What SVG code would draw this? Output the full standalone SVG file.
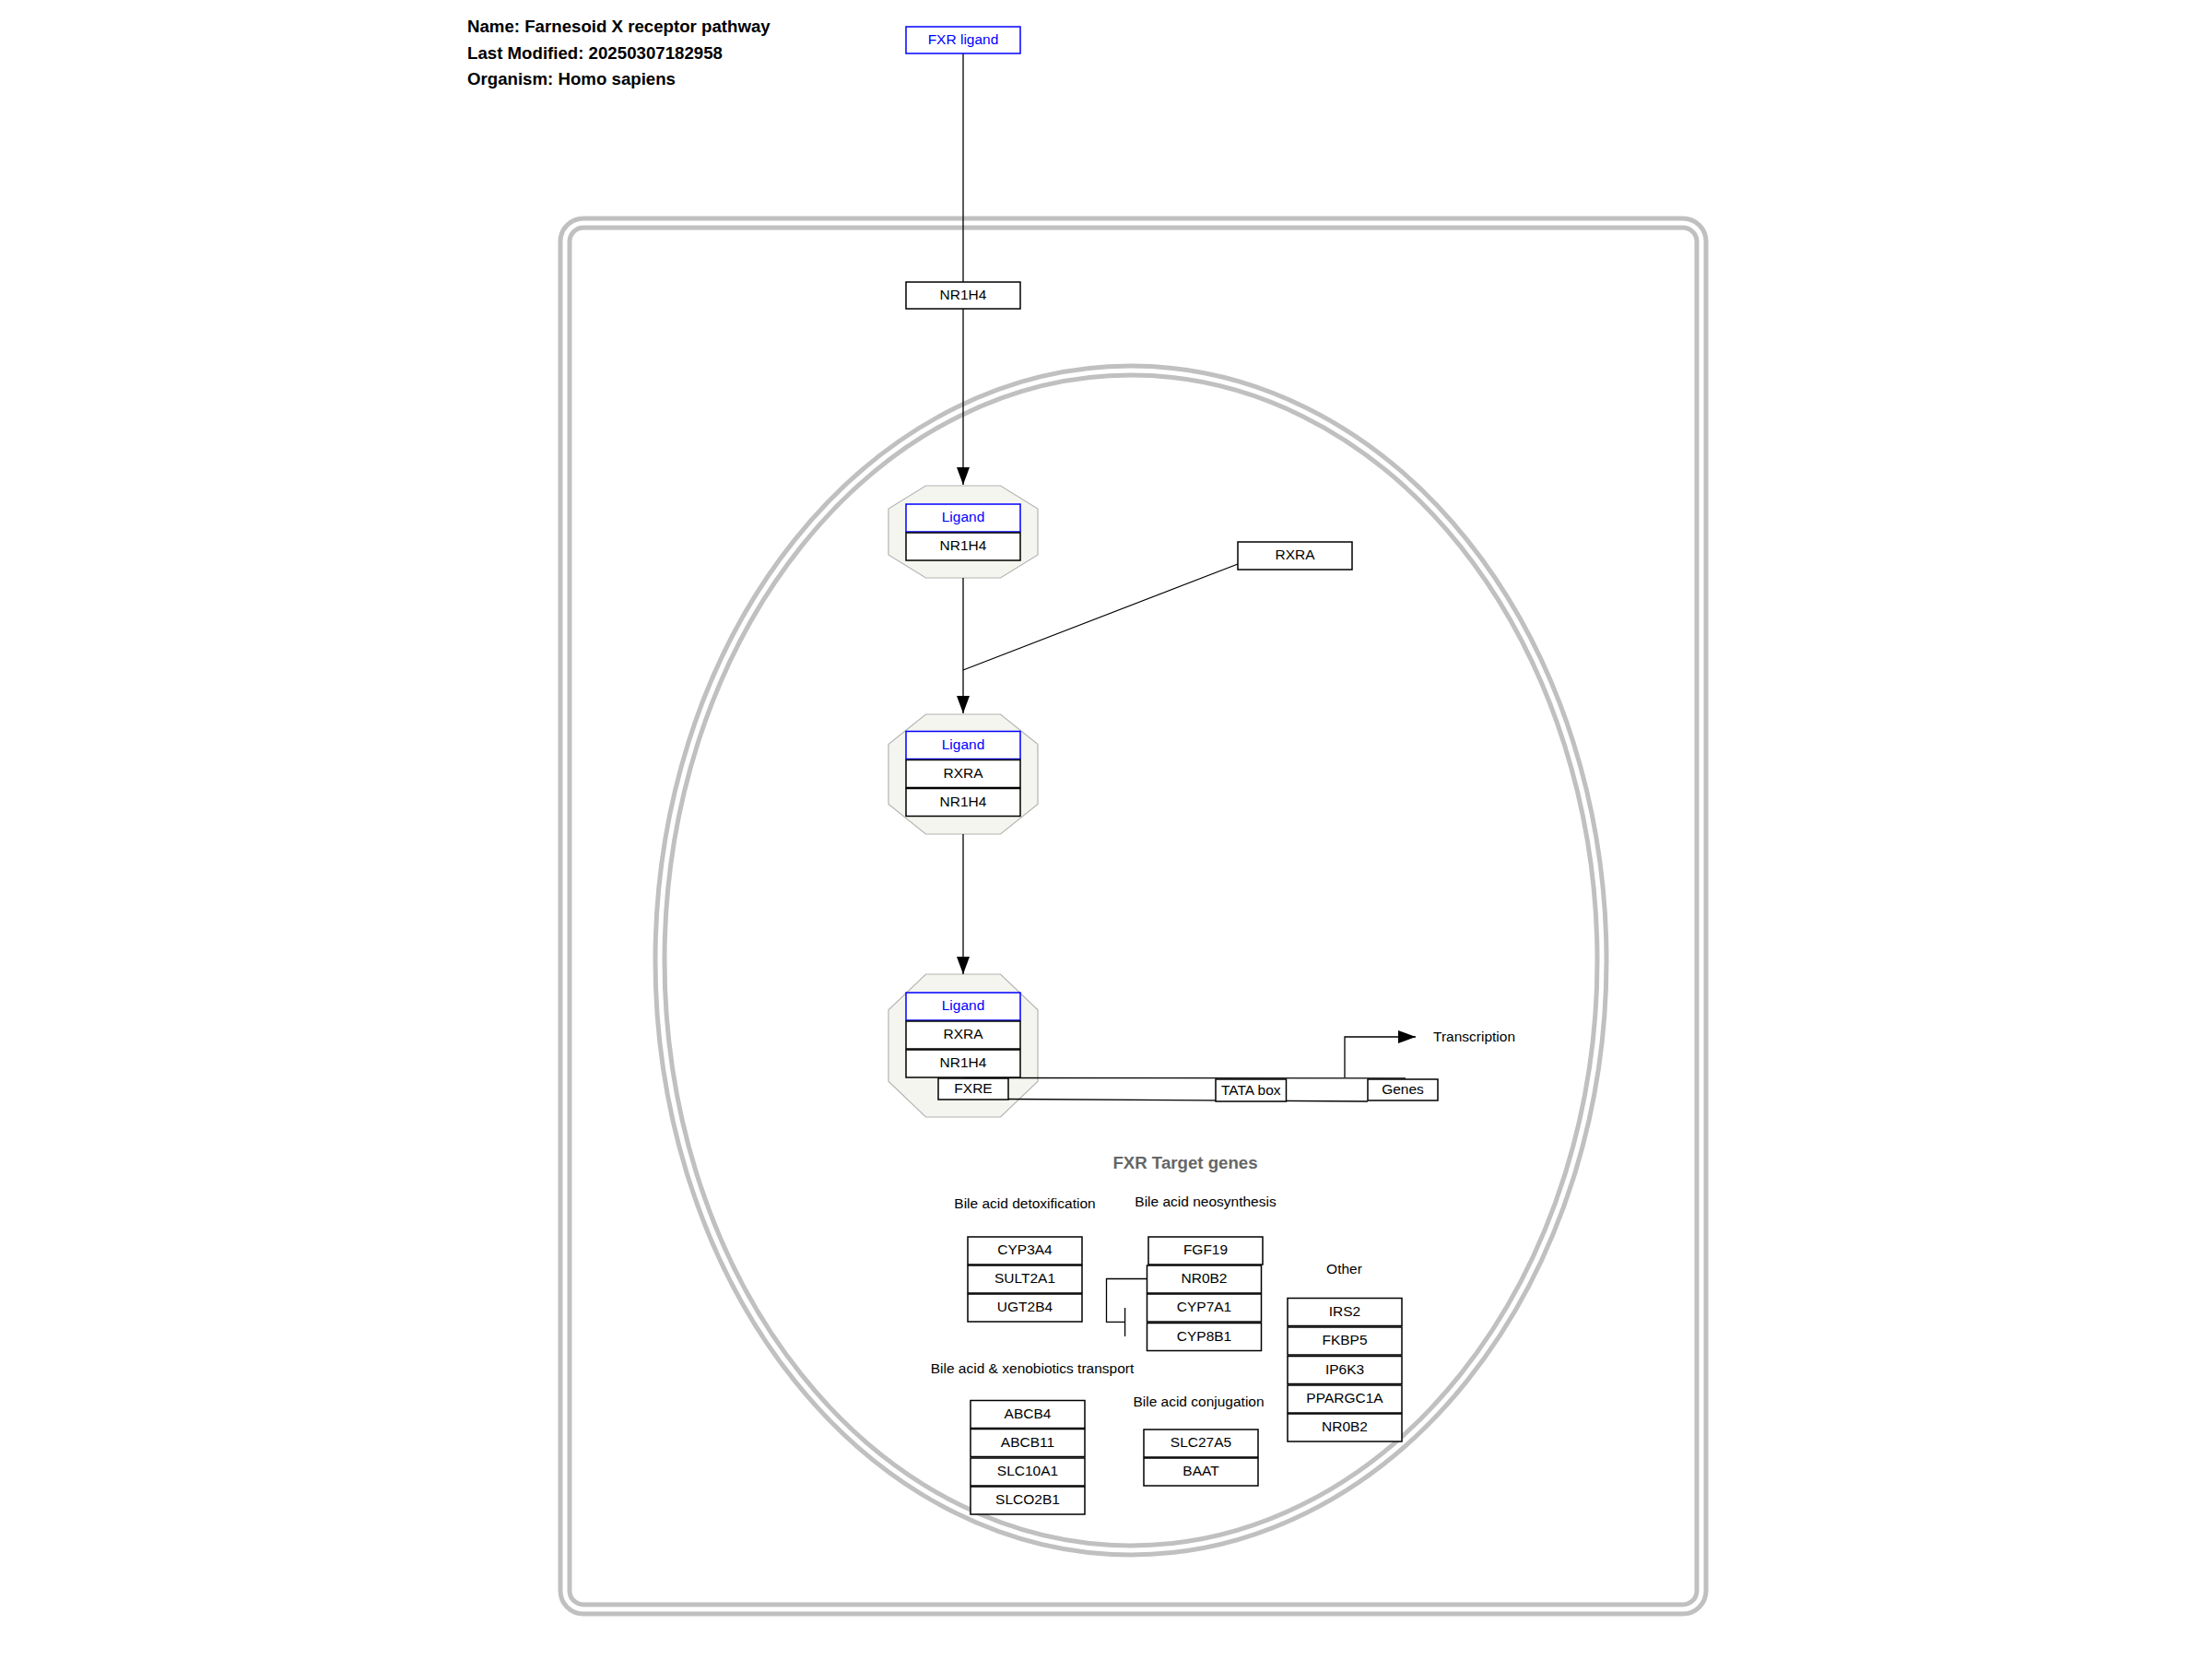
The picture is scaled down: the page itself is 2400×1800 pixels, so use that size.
<svg xmlns="http://www.w3.org/2000/svg" width="2400" height="1800" viewBox="0 0 2400 1800">
  <style>
    text { font-family: "Liberation Sans", Arial, sans-serif; }
    .lbl { font-size: 15.5px; text-anchor: middle; fill: #000; }
    .lbl.blue { fill: #0000ff; }
    .lbl.start { text-anchor: start; }
    .title { font-size: 18.66px; font-weight: bold; fill: #000; }
    .head { font-size: 18.66px; font-weight: bold; fill: #666666; text-anchor: middle; }
    .box { fill: #ffffff; stroke: #000000; stroke-width: 1.5; }
    .lig { fill: #ffffff; stroke: #0000ff; stroke-width: 1.5; }
    .cplx { fill: #f5f5ef; stroke: #b4b4b4; stroke-width: 1.2; }
    .comp { fill: none; stroke: #c0c0c0; stroke-width: 15; }
    .comp-gap { fill: none; stroke: #ffffff; stroke-width: 5; }
    .edge { fill: none; stroke: #000000; stroke-width: 1.3; }
  </style>
  <defs>
    <marker id="arrow" markerUnits="userSpaceOnUse" markerWidth="19" markerHeight="14" refX="19" refY="7" orient="auto">
      <path d="M0,0 L19,7 L0,14 Z" fill="#000"/>
    </marker>
  </defs>

  <rect width="2400" height="1800" fill="#ffffff"/>

  <!-- header -->
  <g id="info">
    <text class="title" x="507" y="35">Name: Farnesoid X receptor pathway</text>
    <text class="title" x="507" y="63.5">Last Modified: 20250307182958</text>
    <text class="title" x="507" y="92">Organism: Homo sapiens</text>
  </g>

  <!-- cell and nucleus (double membrane lines) -->
  <g id="cell">
    <rect class="comp" x="613" y="242" width="1233" height="1504" rx="20" ry="20"/>
    <rect class="comp-gap" x="613" y="242" width="1233" height="1504" rx="20" ry="20"/>
  </g>
  <g id="nucleus">
    <ellipse class="comp" cx="1227" cy="1042" rx="511" ry="640"/>
    <ellipse class="comp-gap" cx="1227" cy="1042" rx="511" ry="640"/>
  </g>

  <!-- complexes -->
  <g id="complex-ligand-nr1h4">
    <polygon class="cplx" points="1004.5,527 1085.5,527 1126,552 1126,602 1085.5,627 1004.5,627 964,602 964,552"/>
  </g>
  <g id="complex-ligand-rxra-nr1h4">
    <polygon class="cplx" points="1004.5,775 1085.5,775 1126,807.5 1126,872.5 1085.5,905 1004.5,905 964,872.5 964,807.5"/>
  </g>
  <g id="complex-bound-fxre">
    <polygon class="cplx" points="1004.5,1057 1085.5,1057 1126,1095.75 1126,1173.25 1085.5,1212 1004.5,1212 964,1173.25 964,1095.75"/>
  </g>

  <!-- connectors -->
  <g id="connectors">
    <line class="edge" x1="1045" y1="58" x2="1045" y2="526" marker-end="url(#arrow)"/>
    <line class="edge" x1="1045" y1="627" x2="1045" y2="774" marker-end="url(#arrow)"/>
    <line class="edge" x1="1343" y1="612" x2="1045" y2="727"/>
    <line class="edge" x1="1045" y1="905" x2="1045" y2="1057" marker-end="url(#arrow)"/>
    <polyline class="edge" points="1459,1169 1459,1125 1536,1125" marker-end="url(#arrow)"/>
    <polyline class="edge" points="1244.5,1387.5 1200.5,1387.5 1200.5,1434.3 1220.6,1434.3"/>
    <line class="edge" x1="1220.6" y1="1419" x2="1220.6" y2="1450"/>
  </g>

  <!-- DNA strand -->
  <g id="dna">
    <line class="edge" x1="1046" y1="1169.5" x2="1525" y2="1169.8" stroke-width="1.6"/>
    <line class="edge" x1="1094" y1="1192.5" x2="1484" y2="1195" stroke-width="1.6"/>
  </g>

  <!-- nodes -->
  <g id="fxr-ligand">
    <rect class="lig" x="983" y="29" width="124" height="29"/>
    <text class="lbl blue" x="1045" y="48">FXR ligand</text>
  </g>
  <g id="nr1h4">
    <rect class="box" x="983" y="306" width="124" height="29"/>
    <text class="lbl" x="1045" y="325">NR1H4</text>
  </g>
  <g id="rxra">
    <rect class="box" x="1343" y="588" width="124" height="30"/>
    <text class="lbl" x="1405" y="607">RXRA</text>
  </g>

  <g id="c1-ligand">
    <rect class="lig" x="983" y="547" width="124" height="30"/>
    <text class="lbl blue" x="1045" y="566">Ligand</text>
  </g>
  <g id="c1-nr1h4">
    <rect class="box" x="983" y="578" width="124" height="30"/>
    <text class="lbl" x="1045" y="597">NR1H4</text>
  </g>

  <g id="c2-ligand">
    <rect class="lig" x="983" y="793.5" width="124" height="30"/>
    <text class="lbl blue" x="1045" y="812.5">Ligand</text>
  </g>
  <g id="c2-rxra">
    <rect class="box" x="983" y="824.5" width="124" height="30"/>
    <text class="lbl" x="1045" y="843.5">RXRA</text>
  </g>
  <g id="c2-nr1h4">
    <rect class="box" x="983" y="855.5" width="124" height="30"/>
    <text class="lbl" x="1045" y="874.5">NR1H4</text>
  </g>

  <g id="c3-ligand">
    <rect class="lig" x="983" y="1077" width="124" height="30"/>
    <text class="lbl blue" x="1045" y="1096">Ligand</text>
  </g>
  <g id="c3-rxra">
    <rect class="box" x="983" y="1108" width="124" height="30"/>
    <text class="lbl" x="1045" y="1127">RXRA</text>
  </g>
  <g id="c3-nr1h4">
    <rect class="box" x="983" y="1139" width="124" height="30"/>
    <text class="lbl" x="1045" y="1158">NR1H4</text>
  </g>

  <g id="fxre">
    <rect class="box" x="1018" y="1170" width="76" height="23"/>
    <text class="lbl" x="1056" y="1186">FXRE</text>
  </g>
  <g id="tata-box">
    <rect class="box" x="1319" y="1171" width="76.5" height="24"/>
    <text class="lbl" x="1357.3" y="1187.5">TATA box</text>
  </g>
  <g id="genes">
    <rect class="box" x="1484" y="1171" width="76" height="23"/>
    <text class="lbl" x="1522" y="1187">Genes</text>
  </g>
  <g id="transcription">
    <text class="lbl start" x="1555" y="1129.5">Transcription</text>
  </g>

  <!-- target gene groups -->
  <g id="target-genes-title">
    <text class="head" x="1286" y="1268">FXR Target genes</text>
  </g>

  <g id="detox-label"><text class="lbl" x="1112" y="1311">Bile acid detoxification</text></g>
  <g id="cyp3a4"><rect class="box" x="1050" y="1342" width="124" height="30"/><text class="lbl" x="1112" y="1361">CYP3A4</text></g>
  <g id="sult2a1"><rect class="box" x="1050" y="1373" width="124" height="30"/><text class="lbl" x="1112" y="1392">SULT2A1</text></g>
  <g id="ugt2b4"><rect class="box" x="1050" y="1404" width="124" height="30"/><text class="lbl" x="1112" y="1423">UGT2B4</text></g>

  <g id="neo-label"><text class="lbl" x="1308" y="1309">Bile acid neosynthesis</text></g>
  <g id="fgf19"><rect class="box" x="1246" y="1342" width="124" height="30"/><text class="lbl" x="1308" y="1361">FGF19</text></g>
  <g id="nr0b2-a"><rect class="box" x="1244.5" y="1373" width="124" height="30"/><text class="lbl" x="1306.5" y="1392">NR0B2</text></g>
  <g id="cyp7a1"><rect class="box" x="1244.5" y="1404" width="124" height="30"/><text class="lbl" x="1306.5" y="1423">CYP7A1</text></g>
  <g id="cyp8b1"><rect class="box" x="1244.5" y="1435.5" width="124" height="30"/><text class="lbl" x="1306.5" y="1454.5">CYP8B1</text></g>

  <g id="other-label"><text class="lbl" x="1458.5" y="1381.5">Other</text></g>
  <g id="irs2"><rect class="box" x="1397" y="1408.5" width="124" height="30"/><text class="lbl" x="1459" y="1427.5">IRS2</text></g>
  <g id="fkbp5"><rect class="box" x="1397" y="1440" width="124" height="30"/><text class="lbl" x="1459" y="1459">FKBP5</text></g>
  <g id="ip6k3"><rect class="box" x="1397" y="1471.5" width="124" height="30"/><text class="lbl" x="1459" y="1490.5">IP6K3</text></g>
  <g id="ppargc1a"><rect class="box" x="1397" y="1503" width="124" height="30"/><text class="lbl" x="1459" y="1522">PPARGC1A</text></g>
  <g id="nr0b2-b"><rect class="box" x="1397" y="1534" width="124" height="30"/><text class="lbl" x="1459" y="1553">NR0B2</text></g>

  <g id="transport-label"><text class="lbl" x="1120" y="1489.5">Bile acid &amp; xenobiotics transport</text></g>
  <g id="abcb4"><rect class="box" x="1053" y="1519.5" width="124" height="30"/><text class="lbl" x="1115" y="1538.5">ABCB4</text></g>
  <g id="abcb11"><rect class="box" x="1053" y="1550.5" width="124" height="30"/><text class="lbl" x="1115" y="1569.5">ABCB11</text></g>
  <g id="slc10a1"><rect class="box" x="1053" y="1582" width="124" height="30"/><text class="lbl" x="1115" y="1601">SLC10A1</text></g>
  <g id="slco2b1"><rect class="box" x="1053" y="1613" width="124" height="30"/><text class="lbl" x="1115" y="1632">SLCO2B1</text></g>

  <g id="conjugation-label"><text class="lbl" x="1300.5" y="1526">Bile acid conjugation</text></g>
  <g id="slc27a5"><rect class="box" x="1241" y="1551" width="124" height="30"/><text class="lbl" x="1303" y="1570">SLC27A5</text></g>
  <g id="baat"><rect class="box" x="1241" y="1582" width="124" height="30"/><text class="lbl" x="1303" y="1601">BAAT</text></g>
</svg>
